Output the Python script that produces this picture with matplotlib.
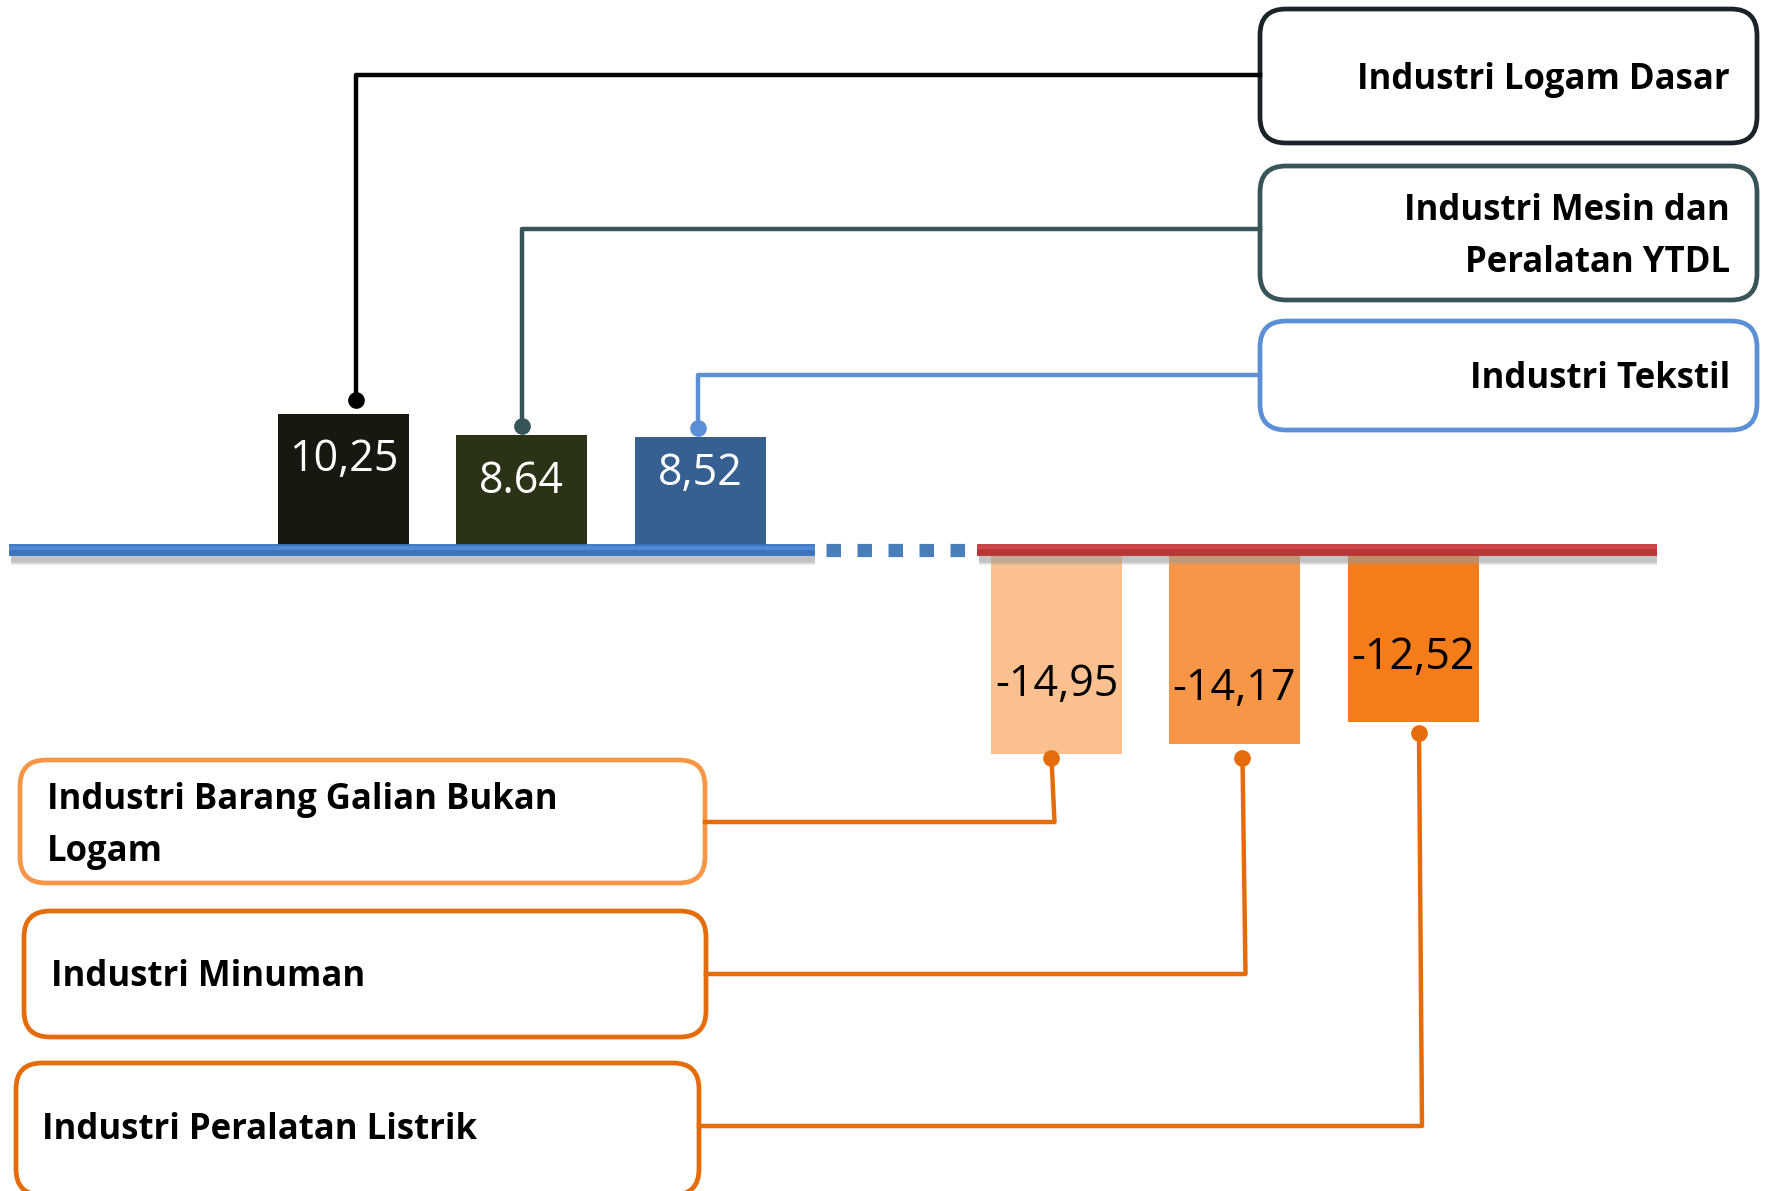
import matplotlib.pyplot as plt
from matplotlib.patches import FancyBboxPatch

# Data
positive_labels = ["Industri Logam Dasar", "Industri Mesin dan\nPeralatan YTDL", "Industri Tekstil"]
positive_values = [10.25, 8.64, 8.52]
positive_text = ["10,25", "8.64", "8,52"]
positive_colors = ["#181810", "#2a3316", "#366092"]
positive_line_colors = ["#000000", "#375459", "#5b8fd6"]

negative_labels = ["Industri Barang Galian Bukan\nLogam", "Industri Minuman", "Industri Peralatan Listrik"]
negative_values = [-14.95, -14.17, -12.52]
negative_text = ["-14,95", "-14,17", "-12,52"]
negative_colors = ["#fac090", "#f79646", "#f57c18"]
negative_box_colors = ["#f79646", "#e46c0a", "#e46c0a"]
negative_line_color = "#e46c0a"

W, H = 1766, 1191
ZERO_PX = 550
PX_PER_UNIT = 13.3
FONT = "Open Sans"
NEG_GAP = 0.38

fig = plt.figure(figsize=(W / 100, H / 100), dpi=100)
ax = fig.add_axes([0, 0, 1, 1])
ax.set_xlim(0, W)
ax.set_ylim(-(H - ZERO_PX) / PX_PER_UNIT, ZERO_PX / PX_PER_UNIT)
ax.axis("off")

ov = fig.add_axes([0, 0, 1, 1], facecolor="none")
ov.set_xlim(0, W)
ov.set_ylim(H, 0)
ov.axis("off")


def to_px(x, v):
    """bar-axes data coords -> overlay pixel coords"""
    disp = ax.transData.transform((x, v))
    return ov.transData.inverted().transform(disp)


bar_w = 131
pos_x = [343.5, 521.5, 700.5]
neg_x = [1056.5, 1234.5, 1413]

ax.bar(pos_x, positive_values, width=bar_w, color=positive_colors, zorder=2)
ax.bar(neg_x, negative_values, width=bar_w, bottom=-NEG_GAP, color=negative_colors, zorder=2)

# baseline: blue part, dashes, red part, with a soft grey shadow
for dy, a in [(10, 0.25), (8, 0.45)]:
    ov.plot([11, 815], [550 + dy, 550 + dy], color="#9a9a9a", lw=7, alpha=a, zorder=3,
            solid_capstyle="butt")
    ov.plot([979, 1657], [550 + dy, 550 + dy], color="#9a9a9a", lw=7, alpha=a, zorder=3,
            solid_capstyle="butt")
ov.plot([9, 815], [550, 550], color="#3a74bd", lw=8.5, zorder=4, solid_capstyle="butt")
ov.plot([9, 815], [548, 548], color="#4f8ad3", lw=3, zorder=4, solid_capstyle="butt")
ov.plot([826, 969], [550, 550], color="#4a7ebb", lw=9.5, ls=(0, (1.1, 1.25)), zorder=4)
ov.plot([977, 1657], [550, 550], color="#b83636", lw=8.5, zorder=4, solid_capstyle="butt")
ov.plot([977, 1657], [547, 547], color="#cf4545", lw=3, zorder=4, solid_capstyle="butt")

# value labels (offsets in px from bar end)
pos_label_off = [46, 47, 37]
neg_label_off = [-69, -55, -64]
for x, v, t, off in zip(pos_x, positive_values, positive_text, pos_label_off):
    px, py = to_px(x, v)
    ov.text(px, py + off, t, color="white", fontsize=31, family=FONT, ha="center",
            va="center", zorder=5)
for x, v, t, off in zip(neg_x, negative_values, negative_text, neg_label_off):
    px, py = to_px(x, v - NEG_GAP)
    ov.text(px, py + off, t, color="black", fontsize=31, family=FONT, ha="center",
            va="center", zorder=5)

# right boxes (positive)
right_boxes = [(9, 143), (166, 300), (321, 430)]
corner_y = [75, 229, 375]
pos_conn_dx = [13, 1, -2]
pos_dot_dy = [-14, -9, -9]
box_x0, box_x1 = 1260, 1757
for (y0, y1), lab, col, cy, x, v, dx, ddy in zip(right_boxes, positive_labels, positive_line_colors,
                                                 corner_y, pos_x, positive_values,
                                                 pos_conn_dx, pos_dot_dy):
    ec = "#1a2428" if col == "#000000" else col
    ov.add_patch(FancyBboxPatch((box_x0, y0), box_x1 - box_x0, y1 - y0,
                                boxstyle="round,pad=0,rounding_size=26",
                                fc="white", ec=ec, lw=3.4, zorder=3))
    ov.text(1730, (y0 + y1) / 2 + 4, lab, ha="right", va="center", fontsize=25,
            fontweight="bold", family=FONT, linespacing=1.6, zorder=5)
    px, py = to_px(x, v)
    px += dx
    dot_y = py + ddy
    ov.plot([px, px, box_x0], [dot_y, cy, cy], color=col, lw=3.2, zorder=3)
    ov.plot(px, dot_y, "o", color=col, ms=11, zorder=4)

# left boxes (negative)
left_boxes = [(20, 705, 760, 883), (24, 706, 911, 1037), (16, 699, 1063, 1195)]
left_corner_y = [822, 974, 1126]
text_x = [47, 51, 42]
text_y = [826, 977, 1130]
neg_conn_dx = [-5, 8, 6]
neg_dot_dy = [4, 14, 11]
for (x0, x1, y0, y1), lab, ec, cy, tx, ty, x, v, dx, ddy in zip(
        left_boxes, negative_labels, negative_box_colors, left_corner_y,
        text_x, text_y, neg_x, negative_values, neg_conn_dx, neg_dot_dy):
    ov.add_patch(FancyBboxPatch((x0, y0), x1 - x0, y1 - y0,
                                boxstyle="round,pad=0,rounding_size=26",
                                fc="white", ec=ec, lw=3.4, zorder=3))
    ov.text(tx, ty, lab, ha="left", va="center", fontsize=25, fontweight="bold",
            family=FONT, linespacing=1.6, zorder=5)
    px, py = to_px(x, v - NEG_GAP)
    px += dx
    dot_y = py + ddy
    ov.plot([px, px + 3, x1], [dot_y, cy, cy], color=negative_line_color, lw=3.2, zorder=3)
    ov.plot(px, dot_y, "o", color=negative_line_color, ms=11, zorder=4)

fig.savefig("out.png", dpi=100)
